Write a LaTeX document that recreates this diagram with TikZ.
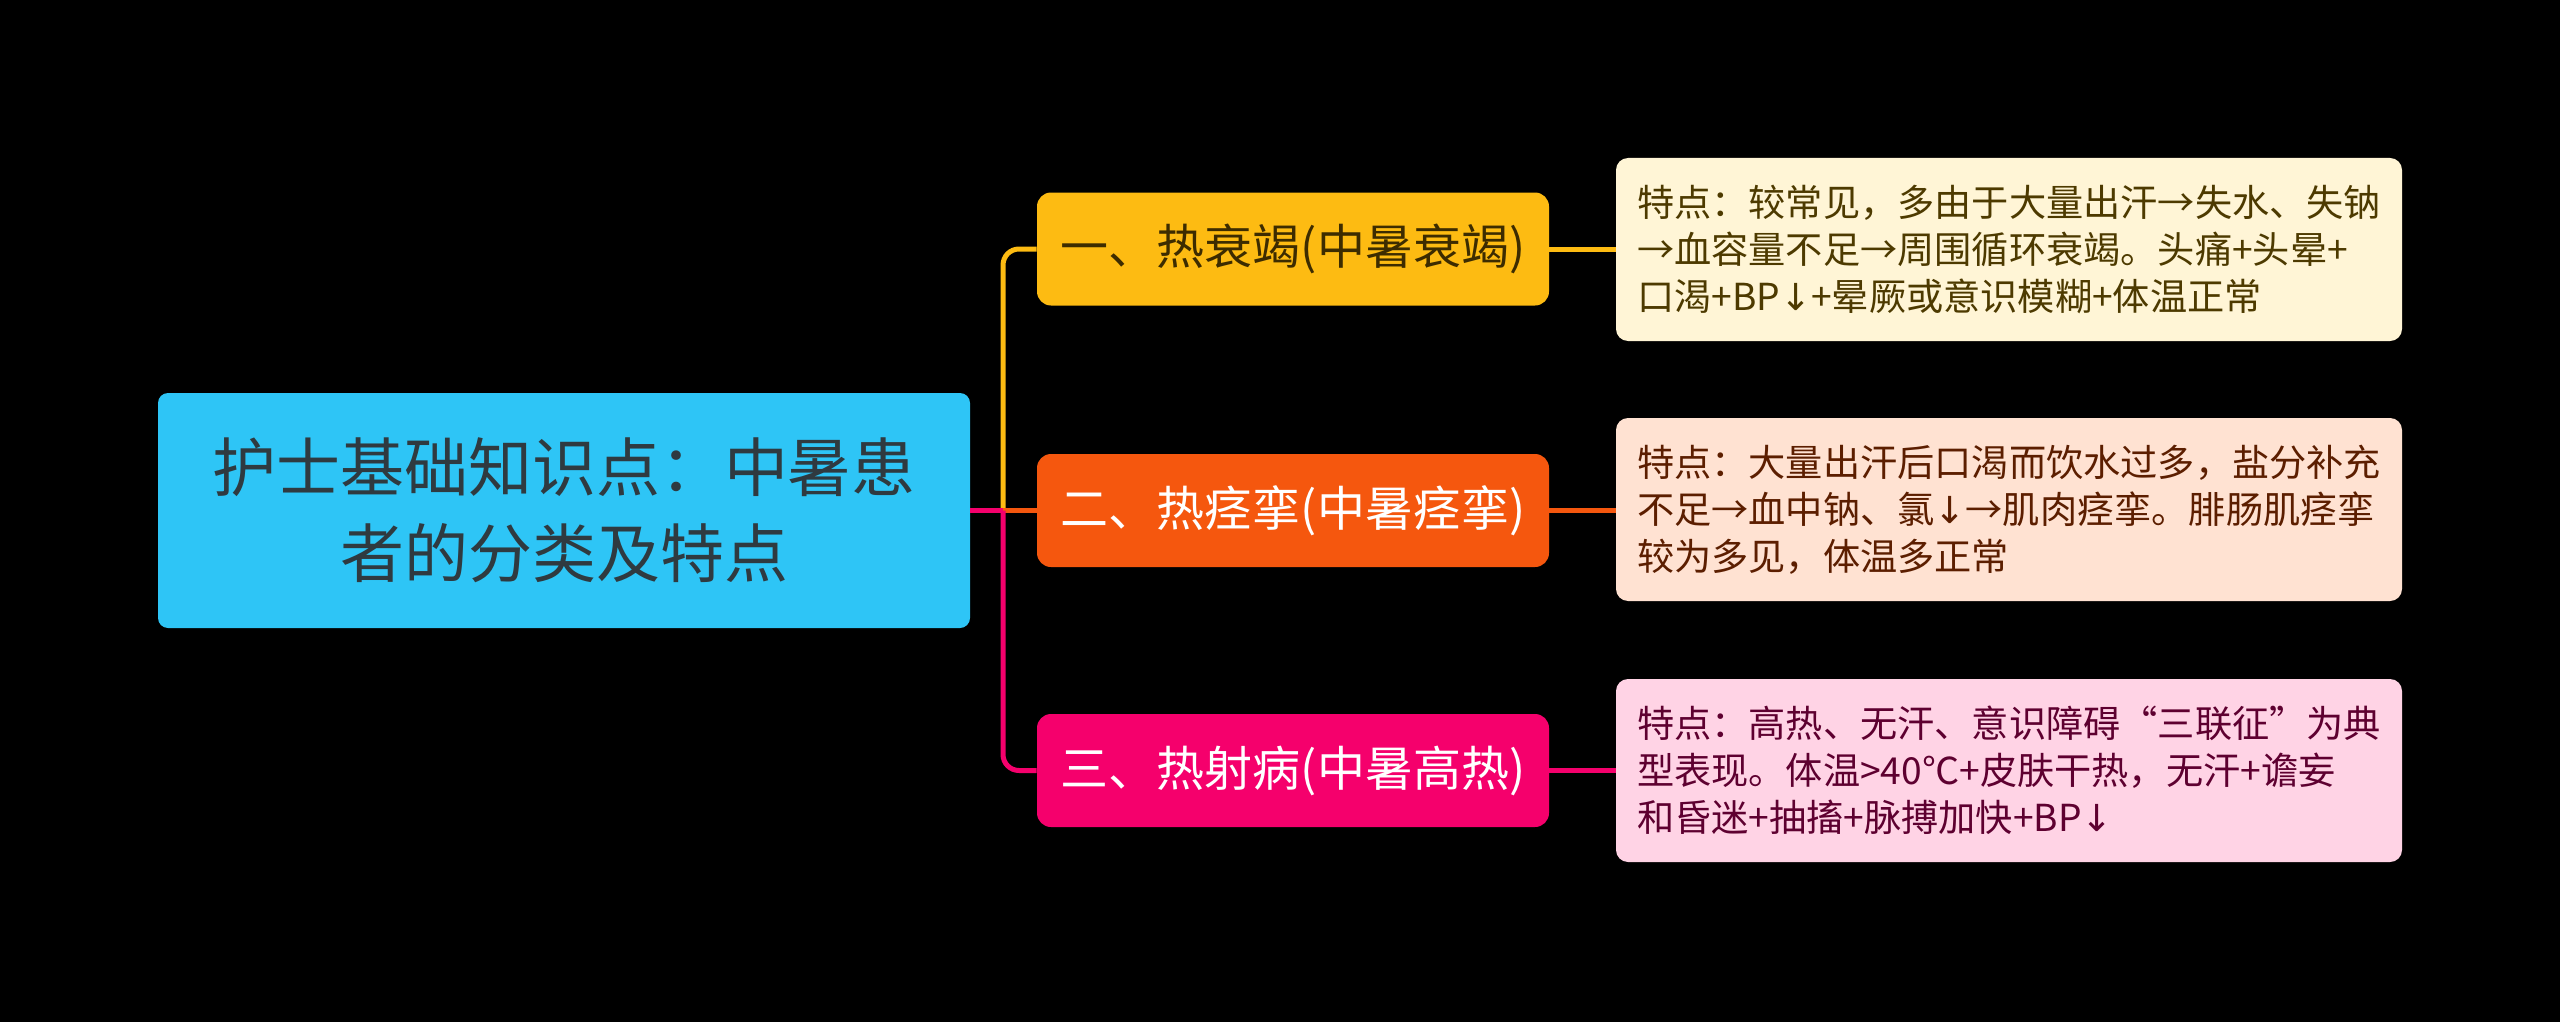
\documentclass[tikz,border=0pt]{standalone}
\usepackage{fontspec}
\setmainfont{Noto Sans CJK SC}
\newfontfamily\arrfont{DejaVu Sans}
\newcommand{\dnarr}{{\arrfont ↓}}
\definecolor{rootfill}{HTML}{2EC5F6}
\definecolor{roottext}{HTML}{2F3A40}
\definecolor{ylw}{HTML}{FDBB12}
\definecolor{org}{HTML}{F5570E}
\definecolor{pnk}{HTML}{F5006C}
\definecolor{ylwtext}{HTML}{3D2C00}
\definecolor{leafA}{HTML}{FFF5D6}
\definecolor{leafB}{HTML}{FFE2D2}
\definecolor{leafC}{HTML}{FFD3E5}
\definecolor{leafAtext}{HTML}{4D3A00}
\definecolor{leafBtext}{HTML}{5C1E00}
\definecolor{leafCtext}{HTML}{5E0030}
\begin{document}
\begin{tikzpicture}[x=0.5pt,y=-0.5pt,
  rootbox/.style={fill=rootfill, rounded corners=5pt, minimum width=406pt, minimum height=117.5pt, inner sep=0pt,
    text=roottext, align=center, font=\fontsize{32pt}{43pt}\selectfont},
  branchbox/.style={rounded corners=7pt, minimum width=256pt, minimum height=56.5pt, inner sep=0pt,
    font=\fontsize{24pt}{28pt}\selectfont},
  leafbox/.style={rounded corners=6pt, minimum width=393pt, minimum height=91.5pt, inner sep=0pt,
    align=left, font=\fontsize{18.6pt}{23.5pt}\selectfont},
  conn/.style={line width=2.5pt}
]
\fill[black] (0,0) rectangle (2560,1022);
\useasboundingbox (0,0) rectangle (2560,1022);

\node[rootbox] (root) at (564,510.5) {护士基础知识点：中暑患\\者的分类及特点};

\node[branchbox, fill=ylw, text=ylwtext] (b1) at (1293,249) {一、热衰竭(中暑衰竭)};
\node[branchbox, fill=org, text=white] (b2) at (1293,510.5) {二、热痉挛(中暑痉挛)};
\node[branchbox, fill=pnk, text=white] (b3) at (1293,770.5) {三、热射病(中暑高热)};

\node[leafbox, fill=leafA, text=leafAtext] (l1) at (2009,249.5) {特点：较常见，多由于大量出汗→失水、失钠\\→血容量不足→周围循环衰竭。头痛+头晕+\\口渴+BP\dnarr+晕厥或意识模糊+体温正常};
\node[leafbox, fill=leafB, text=leafBtext] (l2) at (2009,509.5) {特点：大量出汗后口渴而饮水过多，盐分补充\\不足→血中钠、氯\dnarr→肌肉痉挛。腓肠肌痉挛\\较为多见，体温多正常};
\node[leafbox, fill=leafC, text=leafCtext] (l3) at (2009,770.5) {特点：高热、无汗、意识障碍“三联征”为典\\型表现。体温>40℃+皮肤干热，无汗+谵妄\\和昏迷+抽搐+脉搏加快+BP\dnarr};

\coordinate (tr) at (1003,510.5);

\draw[conn, ylw] (root.east) -- (tr);
\draw[conn, ylw, rounded corners=8pt] (tr) |- (b1.west);
\draw[conn, org] (root.east) -- (b2.west);
\draw[conn, pnk] (root.east) -- (tr);
\draw[conn, pnk, rounded corners=8pt] (tr) |- (b3.west);

\draw[conn, ylw] (b1.east) -- (b1.east -| l1.west);
\draw[conn, org] (b2.east) -- (b2.east -| l2.west);
\draw[conn, pnk] (b3.east) -- (b3.east -| l3.west);
\end{tikzpicture}
\end{document}
